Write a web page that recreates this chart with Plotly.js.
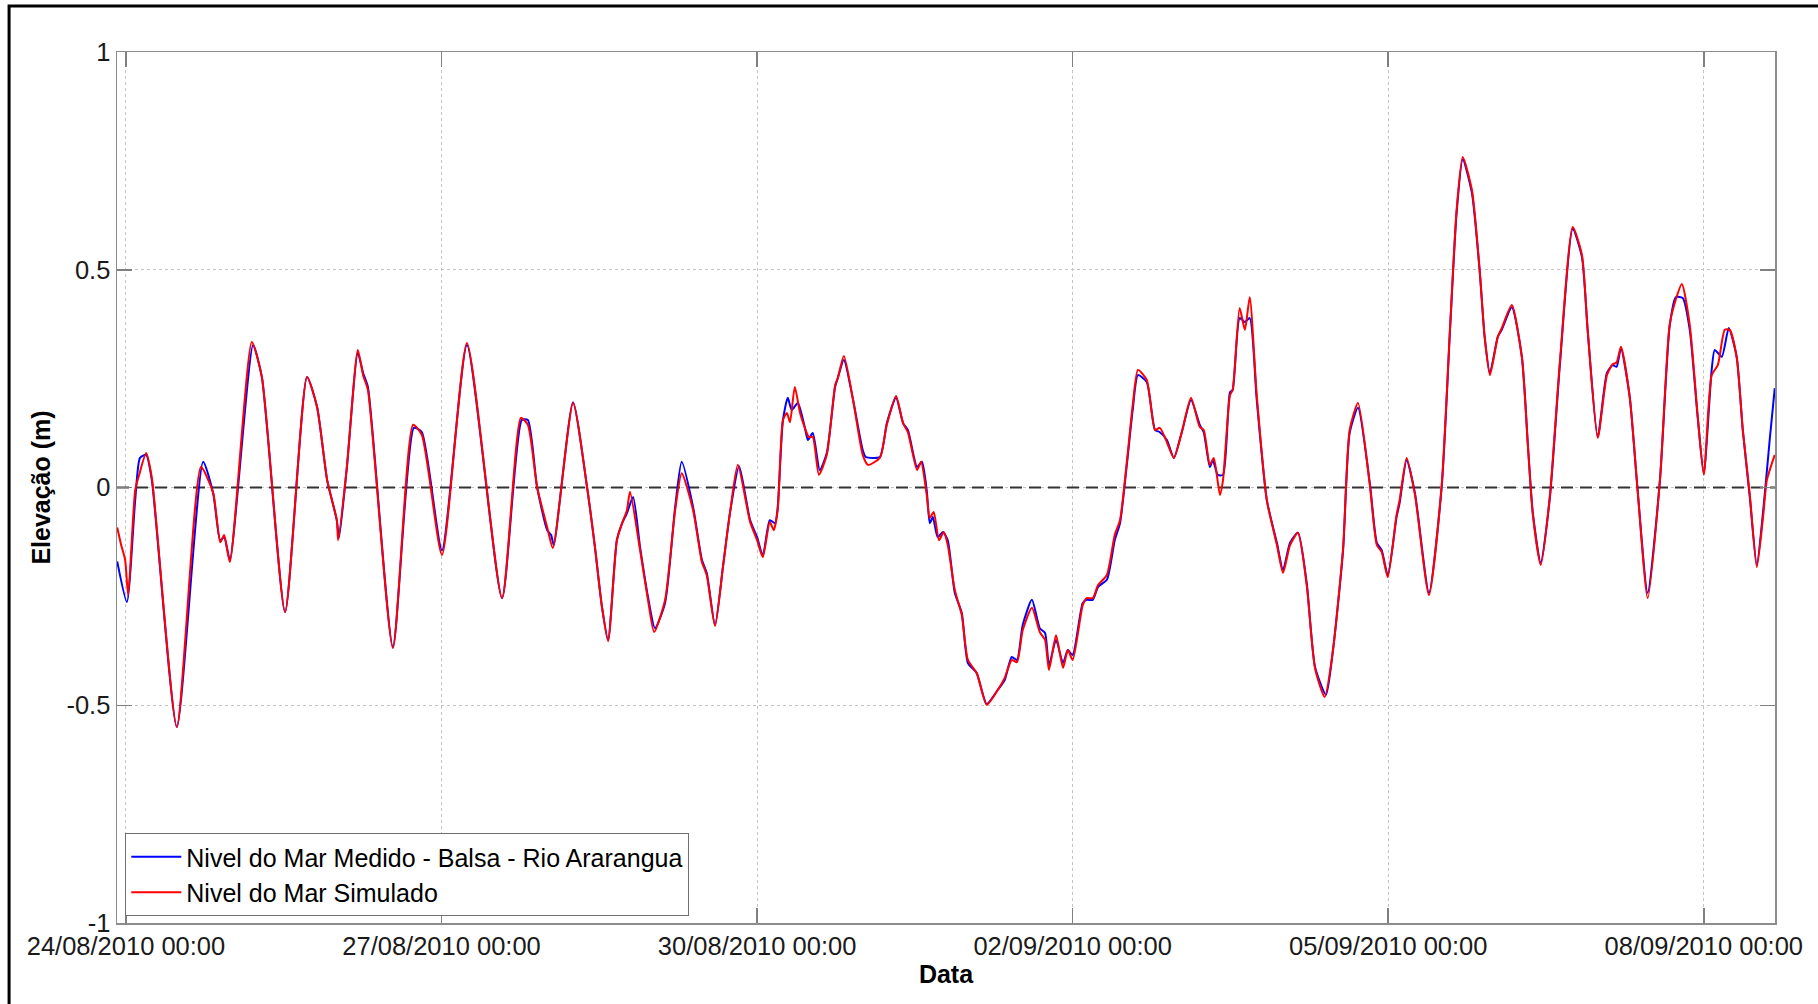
<!DOCTYPE html>
<html>
<head>
<meta charset="utf-8">
<script src="https://cdn.plot.ly/plotly-3.0.1.min.js"></script>
<style>html,body{margin:0;padding:0;background:#fff;}#chart{width:1818px;height:1004px;}</style>
</head>
<body>
<div id="chart"></div>
<script>
// Time origin: 24/08/2010 00:00; times are hours from that origin
const originUTC = Date.UTC(2010, 7, 24, 0, 0, 0);

const measuredHours = [
  -2.0, 0.2, 2.1, 3.2, 4.6, 5.9, 11.6, 17.6, 19.9, 21.5,
  22.4, 23.7, 29.0, 31.0, 36.3, 41.3, 43.6, 45.9, 48.1, 48.6,
  50.4, 52.9, 54.1, 55.2, 60.9, 65.7, 67.5, 72.1, 77.8, 85.8,
  90.3, 91.7, 93.8, 96.1, 97.0, 97.6, 102.0, 105.2, 107.0, 108.6,
  110.0, 112.0, 113.2, 114.3, 115.7, 117.3, 119.1, 120.7, 123.0, 125.3,
  126.8, 129.4, 131.4, 132.5, 134.4, 136.2, 137.8, 139.9, 142.4, 144.0,
  145.3, 146.9, 148.1, 148.7, 149.9, 151.0, 151.9, 153.3, 154.9, 155.6,
  156.7, 158.3, 159.9, 161.8, 162.4, 163.8, 165.9, 168.1, 168.8, 172.0,
  173.6, 175.7, 177.3, 178.4, 180.5, 181.6, 182.7, 183.4, 184.1, 185.2,
  186.4, 187.5, 189.1, 190.7, 192.1, 194.1, 196.4, 198.9, 200.5, 202.1,
  203.3, 204.6, 206.7, 208.5, 209.7, 210.6, 212.2, 213.8, 214.9, 216.0,
  218.3, 219.2, 220.6, 221.8, 223.8, 225.6, 226.8, 228.4, 229.7, 230.9,
  232.9, 234.8, 235.9, 237.5, 239.1, 240.9, 243.0, 245.0, 245.9, 247.3,
  248.0, 249.1, 250.3, 251.9, 252.5, 254.1, 255.3, 256.4, 258.0, 260.3,
  262.6, 264.0, 265.6, 267.4, 269.4, 271.3, 273.8, 275.4, 277.7, 279.2,
  281.1, 283.8, 285.4, 286.5, 287.9, 289.9, 290.6, 292.2, 294.1, 297.3,
  300.2, 302.1, 303.6, 305.0, 307.1, 308.9, 310.0, 311.2, 313.0, 313.9,
  316.2, 318.5, 319.9, 321.0, 322.8, 324.9, 327.2, 330.1, 332.2, 333.5,
  335.8, 337.9, 339.2, 340.1, 341.1, 343.1, 344.9, 347.2, 350.0, 352.2,
  353.6, 355.2, 356.8, 358.6, 360.0, 361.8, 362.5, 364.1, 365.7, 367.5,
  368.9, 370.5, 372.1, 373.5, 375.1, 376.2
];
const measuredLevel = [
  -0.170, -0.263, -0.029, 0.068, 0.075, 0.017, -0.550, 0.059, -0.013, -0.121,
  -0.114, -0.166, 0.327, 0.254, -0.286, 0.254, 0.185, 0.017, -0.075, -0.116,
  0.047, 0.309, 0.263, 0.231, -0.366, 0.137, 0.127, -0.144, 0.327, -0.254,
  0.155, 0.155, 0.001, -0.098, -0.109, -0.132, 0.196, 0.001, -0.137, -0.274,
  -0.350, -0.121, -0.082, -0.059, -0.022, -0.137, -0.251, -0.323, -0.265, -0.045,
  0.059, -0.045, -0.166, -0.196, -0.316, -0.183, -0.059, 0.049, -0.075, -0.114,
  -0.157, -0.075, -0.082, -0.045, 0.155, 0.206, 0.178, 0.194, 0.137, 0.109,
  0.125, 0.040, 0.079, 0.231, 0.251, 0.293, 0.201, 0.086, 0.070, 0.070,
  0.148, 0.206, 0.148, 0.132, 0.047, 0.059, -0.006, -0.082, -0.068, -0.114,
  -0.102, -0.121, -0.242, -0.288, -0.403, -0.426, -0.497, -0.465, -0.442, -0.389,
  -0.396, -0.316, -0.258, -0.323, -0.334, -0.408, -0.350, -0.403, -0.373, -0.385,
  -0.265, -0.258, -0.258, -0.228, -0.212, -0.121, -0.082, 0.056, 0.178, 0.258,
  0.242, 0.132, 0.127, 0.109, 0.068, 0.127, 0.201, 0.144, 0.127, 0.047,
  0.063, 0.029, 0.029, 0.219, 0.224, 0.389, 0.380, 0.389, 0.201, -0.029,
  -0.127, -0.189, -0.127, -0.104, -0.219, -0.412, -0.476, -0.373, -0.144, 0.125,
  0.183, 0.010, -0.127, -0.144, -0.201, -0.068, -0.036, 0.063, -0.013, -0.242,
  0.001, 0.362, 0.630, 0.754, 0.676, 0.493, 0.346, 0.263, 0.346, 0.362,
  0.414, 0.300, 0.093, -0.059, -0.173, -0.022, 0.286, 0.594, 0.529, 0.362,
  0.116, 0.263, 0.281, 0.277, 0.320, 0.208, -0.006, -0.242, 0.017, 0.369,
  0.437, 0.435, 0.362, 0.162, 0.033, 0.270, 0.316, 0.300, 0.366, 0.300,
  0.132, -0.022, -0.178, -0.059, 0.116, 0.228
];

const simulatedHours = [
  -2.0, -1.1, -0.2, 0.5, 2.1, 3.0, 4.6, 5.9, 11.6, 17.1,
  19.9, 21.5, 22.4, 23.7, 28.7, 31.0, 36.3, 41.3, 43.6, 45.9,
  48.1, 48.4, 50.4, 52.9, 54.1, 55.2, 60.9, 65.5, 67.5, 72.1,
  77.8, 85.8, 90.1, 91.7, 93.8, 96.1, 97.4, 102.0, 105.2, 107.0,
  108.6, 110.0, 112.0, 113.2, 114.3, 115.0, 117.3, 119.1, 120.5, 123.0,
  125.3, 126.8, 129.4, 131.4, 132.5, 134.4, 136.2, 137.8, 139.6, 142.4,
  144.0, 145.3, 146.9, 147.8, 148.7, 149.9, 150.8, 151.5, 152.6, 153.8,
  154.9, 155.8, 156.7, 158.1, 159.9, 161.8, 162.4, 163.8, 165.9, 168.1,
  169.3, 172.0, 173.6, 175.7, 177.3, 178.4, 180.5, 181.4, 182.7, 183.4,
  184.3, 185.5, 186.6, 187.5, 189.1, 190.7, 192.1, 194.1, 196.4, 198.9,
  200.5, 202.1, 203.3, 204.6, 206.7, 208.5, 209.7, 210.6, 212.2, 213.8,
  214.9, 216.0, 218.3, 219.2, 220.6, 221.8, 223.8, 225.6, 226.8, 228.4,
  229.7, 230.9, 232.9, 234.8, 235.9, 237.5, 239.1, 240.9, 243.0, 245.0,
  245.9, 247.3, 248.2, 249.6, 250.3, 251.9, 252.5, 254.1, 255.3, 256.4,
  258.0, 260.3, 262.6, 264.0, 265.6, 267.4, 269.4, 271.3, 273.5, 275.4,
  277.7, 279.2, 281.1, 283.8, 285.4, 286.5, 287.9, 289.9, 290.6, 292.2,
  294.1, 297.3, 300.2, 302.1, 303.6, 305.0, 307.1, 308.9, 310.0, 311.2,
  313.0, 313.9, 316.2, 318.5, 319.9, 321.0, 322.8, 324.9, 327.2, 330.1,
  332.2, 333.5, 335.8, 337.9, 339.2, 340.1, 341.1, 343.1, 344.9, 347.2,
  350.0, 352.2, 353.6, 355.0, 356.8, 358.6, 360.0, 361.8, 363.2, 364.8,
  365.9, 367.5, 368.9, 370.5, 372.1, 373.5, 374.4, 376.2
];
const simulatedLevel = [
  -0.092, -0.132, -0.166, -0.247, -0.006, 0.029, 0.079, 0.022, -0.550, 0.047,
  -0.013, -0.126, -0.109, -0.171, 0.334, 0.254, -0.286, 0.254, 0.185, 0.017,
  -0.075, -0.121, 0.047, 0.316, 0.258, 0.224, -0.369, 0.144, 0.121, -0.155,
  0.332, -0.254, 0.160, 0.144, 0.001, -0.091, -0.139, 0.194, 0.001, -0.137,
  -0.274, -0.353, -0.121, -0.082, -0.052, -0.010, -0.144, -0.258, -0.332, -0.258,
  -0.052, 0.033, -0.052, -0.171, -0.201, -0.318, -0.183, -0.059, 0.052, -0.079,
  -0.121, -0.160, -0.079, -0.098, -0.052, 0.155, 0.171, 0.150, 0.231, 0.171,
  0.137, 0.116, 0.116, 0.029, 0.075, 0.235, 0.251, 0.302, 0.201, 0.075,
  0.052, 0.068, 0.144, 0.210, 0.148, 0.127, 0.040, 0.059, -0.017, -0.070,
  -0.056, -0.121, -0.102, -0.132, -0.235, -0.293, -0.396, -0.426, -0.499, -0.465,
  -0.437, -0.396, -0.401, -0.328, -0.276, -0.332, -0.350, -0.419, -0.339, -0.414,
  -0.373, -0.396, -0.270, -0.254, -0.254, -0.224, -0.201, -0.109, -0.075, 0.063,
  0.189, 0.270, 0.247, 0.132, 0.137, 0.104, 0.068, 0.127, 0.206, 0.139,
  0.132, 0.052, 0.068, -0.017, 0.017, 0.212, 0.224, 0.412, 0.362, 0.437,
  0.212, -0.029, -0.132, -0.196, -0.132, -0.104, -0.224, -0.415, -0.481, -0.373,
  -0.139, 0.132, 0.194, 0.006, -0.132, -0.148, -0.206, -0.063, -0.029, 0.068,
  -0.017, -0.247, 0.006, 0.366, 0.637, 0.759, 0.683, 0.495, 0.346, 0.258,
  0.346, 0.366, 0.419, 0.298, 0.091, -0.063, -0.178, -0.017, 0.293, 0.598,
  0.534, 0.362, 0.114, 0.258, 0.283, 0.287, 0.323, 0.208, -0.006, -0.254,
  0.017, 0.373, 0.431, 0.467, 0.373, 0.166, 0.029, 0.258, 0.281, 0.362,
  0.362, 0.300, 0.132, -0.017, -0.183, -0.070, 0.017, 0.075
];

const tickDates = ['2010-08-24', '2010-08-27', '2010-08-30', '2010-09-02', '2010-09-05', '2010-09-08'];
const tickLabels = ['24/08/2010 00:00', '27/08/2010 00:00', '30/08/2010 00:00', '02/09/2010 00:00', '05/09/2010 00:00', '08/09/2010 00:00'];
const yTickValues = [-1, -0.5, 0, 0.5, 1];
const yTickLabels = ['-1', '-0.5', '0', '0.5', '1'];
const seriesNames = ['Nivel do Mar Medido - Balsa - Rio Ararangua', 'Nivel do Mar Simulado'];
const rangeHours = [-2.05, 376.25];
const referenceLevel = 0;

function toDate(h) {
  const d = new Date(originUTC + Math.round(h * 3600000));
  return d.toISOString().slice(0, 19).replace('T', ' ');
}

const FONT = 'Liberation Sans, Arial, Helvetica, sans-serif';

const traces = [
  {
    // dashed zero reference line across the whole axis range
    x: rangeHours.map(toDate), y: [referenceLevel, referenceLevel], type: 'scatter', mode: 'lines',
    showlegend: false, hoverinfo: 'skip',
    line: {color: '#333333', width: 2, dash: '12px,7px'}
  },
  {
    x: measuredHours.map(toDate), y: measuredLevel, type: 'scatter', mode: 'lines',
    name: seriesNames[0],
    line: {color: '#0000ff', width: 2, shape: 'spline', smoothing: 0.6}
  },
  {
    x: simulatedHours.map(toDate), y: simulatedLevel, type: 'scatter', mode: 'lines',
    name: seriesNames[1],
    line: {color: '#ff0000', width: 2, shape: 'spline', smoothing: 0.6}
  }
];

const axisCommon = {
  ticks: 'inside', ticklen: 15, tickwidth: 1.5, tickcolor: '#808080',
  showline: true, linecolor: '#8c8c8c', linewidth: 1.5, mirror: 'ticks',
  showgrid: true, gridcolor: '#c4c4c4', griddash: 'dot', gridwidth: 1,
  zeroline: false,
  tickfont: {family: FONT, size: 25.5, color: '#1a1a1a'}
};

const layout = {
  width: 1818, height: 1004,
  margin: {l: 117, r: 43, t: 52, b: 81},
  paper_bgcolor: '#ffffff', plot_bgcolor: '#ffffff',
  showlegend: true,
  font: {family: FONT, color: '#1a1a1a'},
  xaxis: Object.assign({}, axisCommon, {
    type: 'date',
    range: [toDate(rangeHours[0]), toDate(rangeHours[1])],
    tickmode: 'array', tickvals: tickDates, ticktext: tickLabels,
    title: {text: 'Data', font: {family: FONT, size: 25, color: '#000', weight: 'bold'}, standoff: 3}
  }),
  yaxis: Object.assign({}, axisCommon, {
    range: [-1, 1],
    tickmode: 'array', tickvals: yTickValues, ticktext: yTickLabels,
    title: {text: 'Elevação (m)', font: {family: FONT, size: 25, color: '#000', weight: 'bold'}, standoff: 8}
  }),
  legend: {
    x: 0.005, y: 0.008, xanchor: 'left', yanchor: 'bottom',
    bgcolor: '#ffffff', bordercolor: '#707070', borderwidth: 1,
    font: {family: FONT, size: 25, color: '#000'},
    itemwidth: 50, tracegroupgap: 0
  },
  shapes: [
    {type: 'rect', xref: 'paper', yref: 'paper', x0: -0.0651, x1: 1.06, y0: -0.15, y1: 1.0528,
     line: {color: '#000000', width: 3}, fillcolor: 'rgba(0,0,0,0)', layer: 'above'}
  ]
};

Plotly.newPlot('chart', traces, layout, {displayModeBar: false, staticPlot: true});
</script>
</body>
</html>
